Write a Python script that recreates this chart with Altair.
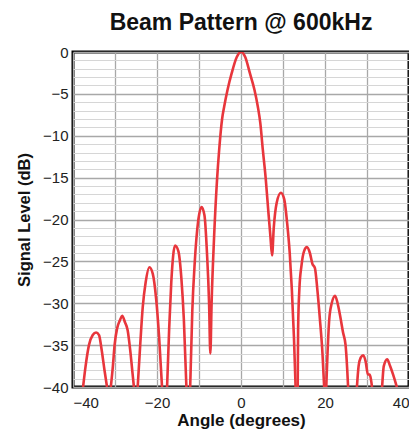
import altair as alt
import pandas as pd

# lobe segments: angle (deg), level (dB)
seg_angles = [
    [-37.6, -37.0, -36.2, -35.3, -34.5, -33.8, -33.2, -32.5, -31.9],
    [-31.0, -30.5, -30.1, -29.5, -28.8, -28.3, -27.6, -27.0, -26.4, -25.8, -25.5],
    [-24.6, -24.0, -23.4, -22.7, -21.8, -21.0, -20.2, -19.5, -18.8],
    [-17.6, -17.1, -16.6, -15.7, -14.9, -14.2, -13.6, -13.0],
    [-12.1, -11.6, -11.0, -10.2, -9.4, -8.7, -8.1, -7.6, -7.3,
     -7.0, -6.4, -5.7, -5.2, -4.5, -4.0, -3.2, -2.2, -1.0, 0.0, 1.0, 2.1, 3.2, 4.0, 4.6, 5.2, 5.9, 6.5, 7.0, 7.4,
     7.8, 8.5, 9.5, 10.3, 11.0, 11.6, 12.1, 12.6, 13.0],
    [13.5, 13.6, 13.9, 14.4, 15.0, 15.7, 16.4, 17.0, 17.6, 18.2, 18.8, 19.4, 19.8],
    [20.3, 20.6, 21.0, 21.6, 22.4, 23.0, 23.6, 24.3, 24.9, 25.3, 25.5],
    [27.6, 28.0, 28.5, 29.1, 29.7, 30.2, 30.6, 31.2],
    [33.6, 34.0, 34.8, 35.5, 36.2, 37.1],
]
seg_levels = [
    [-40, -37.5, -35, -33.8, -33.5, -33.8, -35.5, -38, -40],
    [-40, -37.5, -35, -33, -32, -31.5, -32.3, -33.2, -35.5, -38.5, -40],
    [-40, -35, -30.5, -27.5, -25.7, -26.5, -29.5, -34, -40],
    [-40, -33, -27.5, -23.1, -23.8, -27, -32, -40],
    [-40, -31, -25, -20.2, -18.5, -19.5, -24, -30, -36,
     -30, -22, -15.2, -11.7, -8, -6.5, -4.5, -2.5, -0.6, 0, -0.6, -2.5, -4.5, -6.5, -8.5, -11.7, -15.2, -19, -22, -24.3,
     -21, -18, -16.8, -17.6, -20.5, -24, -28.3, -34, -40],
    [-40, -33, -28.3, -25.5, -23.8, -23.3, -24, -25.3, -25.8, -28.5, -32, -36, -40],
    [-40, -36, -32, -30, -29.1, -30, -31.5, -33.5, -35, -38, -40],
    [-40, -37.5, -36.5, -36.2, -37, -38.5, -38.5, -40],
    [-40, -37.5, -36.7, -37.5, -38.5, -40],
]

x_grid = [-40, -30, -20, -10, 0, 10, 20, 30, 40]
y_grid = list(range(-40, 1))

rows = []
for s, (xs, ys) in enumerate(zip(seg_angles, seg_levels)):
    for i, (a, l) in enumerate(zip(xs, ys)):
        rows.append({"angle": a, "level": l, "seg": s, "order": i})
df = pd.DataFrame(rows)

font = "Liberation Sans"

chart = alt.Chart(df).mark_line(color="#e8363c", strokeWidth=2.6, clip=True,
                                interpolate="monotone").encode(
    x=alt.X("angle:Q", scale=alt.Scale(domain=[-40, 40], nice=False),
            axis=alt.Axis(values=x_grid, title="Angle (degrees)",
                          labelExpr="datum.value % 20 === 0 ? datum.label : ''",
                          grid=True, gridColor="#a8a8a8", gridWidth=1.3,
                          domain=False, ticks=False, labelPadding=8,
                          labelFontSize=15, labelColor="#222", labelFont=font,
                          titleFont=font, titleFontSize=17, titleFontWeight="bold",
                          titleColor="#111", titlePadding=2)),
    y=alt.Y("level:Q", scale=alt.Scale(domain=[-40, 0], nice=False),
            axis=alt.Axis(values=y_grid, title="Signal Level (dB)",
                          labelExpr="datum.value % 5 === 0 ? datum.label : ''",
                          grid=True,
                          gridColor=alt.condition("datum.value % 5 === 0", alt.value("#a8a8a8"), alt.value("#d6d6d6")),
                          gridWidth=alt.condition("datum.value % 5 === 0", alt.value(1.6), alt.value(1.2)),
                          domain=False, ticks=False, labelPadding=5,
                          labelFontSize=15, labelColor="#222", labelFont=font,
                          titleFont=font, titleFontSize=16.5, titleFontWeight="bold",
                          titleColor="#111", titlePadding=10)),
    detail="seg:N",
    order="order:Q",
).properties(
    width=336, height=335,
    title=alt.TitleParams("Beam Pattern @ 600kHz", font=font, fontSize=23,
                          fontWeight="bold", color="#111", offset=10, anchor="middle"),
    autosize=alt.AutoSizeParams(type="none"),
    padding={"left": 65, "top": 44, "right": 0, "bottom": 46},
).configure_view(stroke="#000", strokeWidth=3)

chart.save("out.html", embed_options={"renderer": "svg", "actions": False})

# keep the page from showing scrollbars
with open("out.html", encoding="utf-8") as f:
    html = f.read()
html = html.replace("<head>", "<head>\n<style>html,body{overflow:hidden;}</style>", 1)
with open("out.html", "w", encoding="utf-8") as f:
    f.write(html)
